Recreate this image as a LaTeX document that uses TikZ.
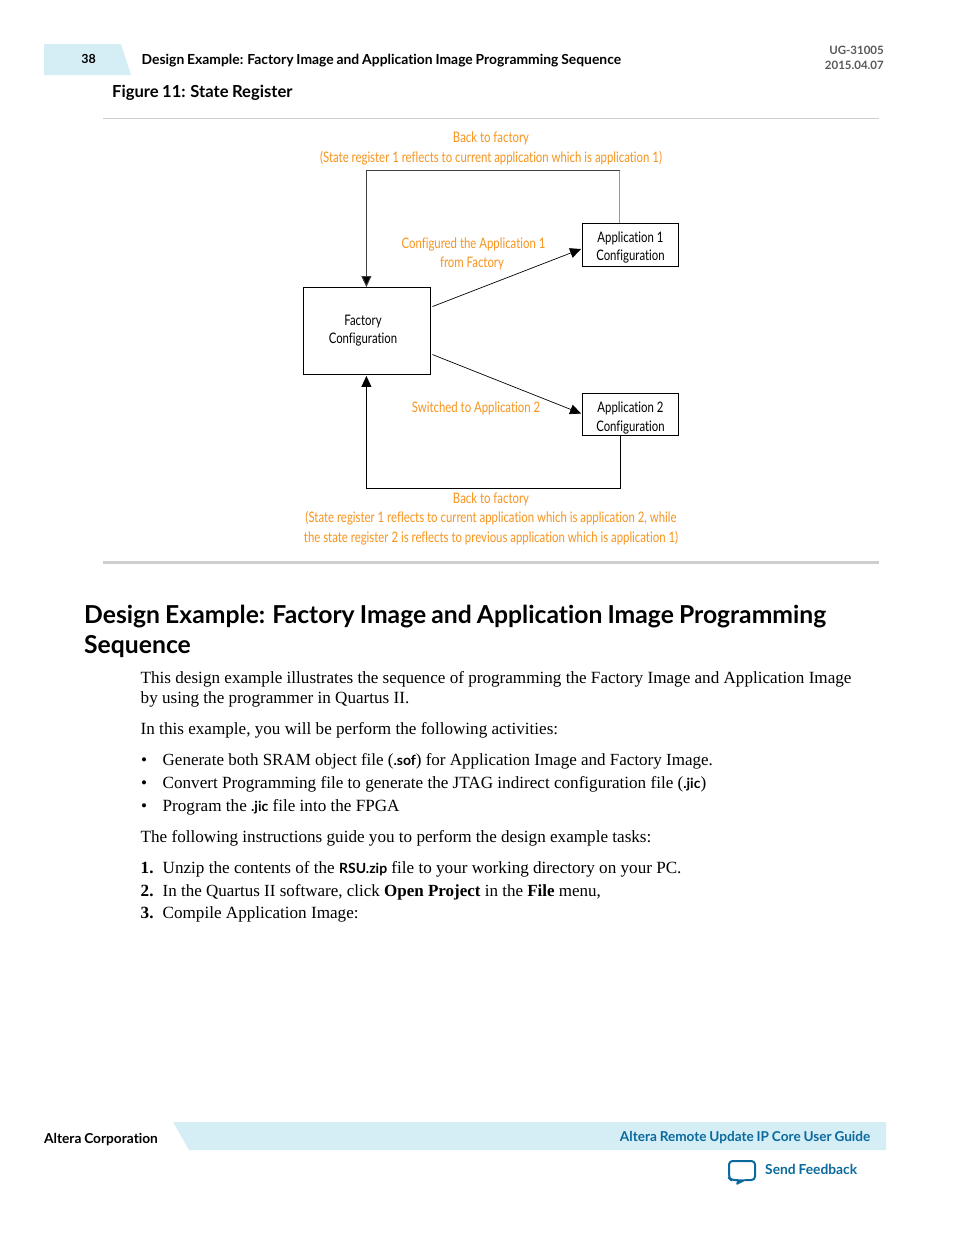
\documentclass[tikz,border=0pt]{standalone}
\usepackage{fontspec}
\setmainfont{Liberation Serif}
\newfontfamily\hsans[Ligatures=NoCommon,WordSpace=0.85]{Lato}
\newfontfamily\csans[FakeStretch=0.785,Ligatures=NoCommon]{Lato}
\usetikzlibrary{arrows.meta,calc}
\definecolor{paleblue}{HTML}{D5EDF5}
\definecolor{linkblue}{HTML}{0A6A9E}
\definecolor{orangetxt}{HTML}{F7941E}
\definecolor{rulegray}{HTML}{CFCFCF}
\tikzset{
  lbl/.style={inner sep=0pt,anchor=base},
  lft/.style={inner sep=0pt,anchor=base west},
  orangelbl/.style={lbl,text=orangetxt,font=\csans\fontsize{14.5}{18}\selectfont},
  box/.style={draw=black,line width=0.9pt,inner sep=0pt,align=center,font=\csans\fontsize{14.5}{18}\selectfont},
  body/.style={lft,font=\fontsize{17.12}{20}\selectfont},
  bodytight/.style={lft,font=\fontsize{17}{20}\selectfont},
  conn/.style={line width=0.9pt,-{Triangle[length=11pt,width=10pt]}},
  thinconn/.style={line width=0.7pt,-{Triangle[length=11pt,width=10pt]}}
}
\newcommand{\fn}[1]{{\hsans\bfseries\fontsize{14}{16}\selectfont #1}}
\begin{document}
\begin{tikzpicture}[x=1pt,y=-1pt]
\useasboundingbox (0,0) rectangle (954,1235);
\fill[white] (0,0) rectangle (954,1235);
% header
\fill[paleblue] (44,44) -- (121,44) -- (131,75) -- (44,75) -- cycle;
\node[lbl,font=\hsans\bfseries\fontsize{12.5}{15}\selectfont] (pg) at (88.5,63) {38};
\node[lft,font=\hsans\bfseries\fontsize{13.87}{16}\selectfont] (hd) at (141.5,64) {Design Example: Factory Image and Application Image Programming Sequence};
\node[inner sep=0pt,anchor=base east,text=black!65,font=\hsans\bfseries\fontsize{11.5}{14}\selectfont] (ug) at (884,54) {UG-31005};
\node[inner sep=0pt,anchor=base east,text=black!65,font=\hsans\bfseries\fontsize{11.5}{14}\selectfont] (dt) at (884,69) {2015.04.07};
\node[lft,font=\hsans\bfseries\fontsize{16.6}{19}\selectfont] (fig) at (112,97) {Figure 11: State Register};
\draw[rulegray,line width=0.9pt] (103,118.5) -- (879,118.5);
% diagram
\node[box,minimum width=127pt,minimum height=87pt] (fac) at (367,331) {Factory\kern8pt\\Configuration\kern8pt\rule[-4pt]{0pt}{1pt}};
\node[box,minimum width=96pt,minimum height=43pt] (a1) at (630.5,245) {\rule{0pt}{15pt}Application 1\\Configuration};
\node[box,minimum width=96pt,minimum height=42pt] (a2) at (630.5,414.5) {\rule{0pt}{17pt}Application 2\\[1pt]Configuration};
\coordinate (f1) at ($(fac.north east)+(1.5,19.5)$);
\coordinate (f2) at ($(fac.north east)+(1.5,67.5)$);
\coordinate (t1) at ($(a1.west)+(-1,4)$);
\coordinate (t2) at ($(a2.west)+(-1,-1)$);
\coordinate (a1n) at ($(a1.north west)+(37.5,0)$);
\coordinate (a2s) at ($(a2.south west)+(38,0)$);
\coordinate (fn) at ($(fac.north)+(-0.6,0)$);
\coordinate (fs) at ($(fac.south)+(-0.6,1)$);
\draw[thinconn] (f1) -- (t1);
\draw[thinconn] (f2) -- (t2);
\draw[black!40,line width=0.9pt] (a1n) -- (a1n |- 0,170);
\draw[line width=0.9pt,black!75,-{Triangle[length=11pt,width=10pt,fill=black]}] (a1n |- 0,170) -- (fn |- 0,170) -- (fn);
\draw[conn] (a2s) -- (a2s |- 0,488.5) -- (fs |- 0,488.5) -- (fs);
\node[orangelbl] (o1) at (491,142) {Back to factory};
\node[orangelbl] (o2) at (491,162) {(State register 1 reflects to current application which is application 1)};
\node[orangelbl] (o3) at (473.5,248) {Configured the Application 1};
\node[orangelbl] (o4) at (472,267) {from Factory};
\node[orangelbl] (o5) at (476,412) {Switched to Application 2};
\node[orangelbl] (o6) at (491,503) {Back to factory};
\node[orangelbl] (o7) at (491,522) {(State register 1 reflects to current application which is application 2, while};
\node[orangelbl] (o8) at (491,542) {the state register 2 is reflects to previous application which is application 1)};
\draw[rulegray,line width=3pt] (103,562.5) -- (879,562.5);
% section
\node[lft,font=\hsans\bfseries\fontsize{24.7}{30}\selectfont] (h1) at (84,623) {Design Example: Factory Image and Application Image Programming};
\node[lft,font=\hsans\bfseries\fontsize{24.7}{30}\selectfont] (h2) at (84,653) {Sequence};
\node[body] (b1) at (140.5,683) {This design example illustrates the sequence of programming the Factory Image and Application Image};
\node[body] (b2) at (140.5,703.5) {by using the programmer in Quartus II.};
\node[body] (b3) at (140.5,734) {In this example, you will be perform the following activities:};
\node[body] (d1) at (141,765.5) {•};
\node[bodytight] (l1) at (162.5,765) {Generate both SRAM object file (\fn{.sof}) for Application Image and Factory Image.};
\node[body] (d2) at (141,788.5) {•};
\node[body] (l2) at (162.5,788) {Convert Programming file to generate the JTAG indirect configuration file (\fn{.jic})};
\node[body] (d3) at (141,811.5) {•};
\node[body] (l3) at (162.5,811) {Program the \fn{.jic} file into the FPGA};
\node[body] (b4) at (140.5,842) {The following instructions guide you to perform the design example tasks:};
\node[body,font=\fontsize{17.12}{20}\selectfont\bfseries] (n1) at (140.5,873) {1.};
\node[body] (s1) at (162.5,873) {Unzip the contents of the \fn{RSU.zip} file to your working directory on your PC.};
\node[body,font=\fontsize{17.12}{20}\selectfont\bfseries] (n2) at (140.5,896) {2.};
\node[bodytight] (s2) at (162.5,896) {In the Quartus II software, click \textbf{Open Project} in the \textbf{File} menu,};
\node[body,font=\fontsize{17.12}{20}\selectfont\bfseries] (n3) at (140.5,918) {3.};
\node[body] (s3) at (162.5,918) {Compile Application Image:};
% footer
\node[lft,font=\hsans\bfseries\fontsize{13.7}{16}\selectfont] (ac) at (44,1143) {Altera Corporation};
\fill[paleblue] (173,1122) -- (886,1122) -- (886,1150) -- (189,1150) -- cycle;
\node[inner sep=0pt,anchor=base east,text=linkblue,font=\hsans\bfseries\fontsize{13.6}{16}\selectfont] (gd) at (870.5,1141) {Altera Remote Update IP Core User Guide};
\node[lft,text=linkblue,font=\hsans\bfseries\fontsize{13.8}{16}\selectfont] (sf) at (765,1174) {Send Feedback};
\draw[linkblue,line width=2pt,line join=round,rounded corners=3.5pt] (738,1180) -- (731,1180) -- (729,1178) -- (729,1161) -- (755,1161) -- (755,1180) -- (745,1180);
\draw[linkblue,line width=1.5pt,line join=round,fill=linkblue] (745,1180) -- (737,1184) -- (738,1180) -- cycle;
\end{tikzpicture}
\end{document}
